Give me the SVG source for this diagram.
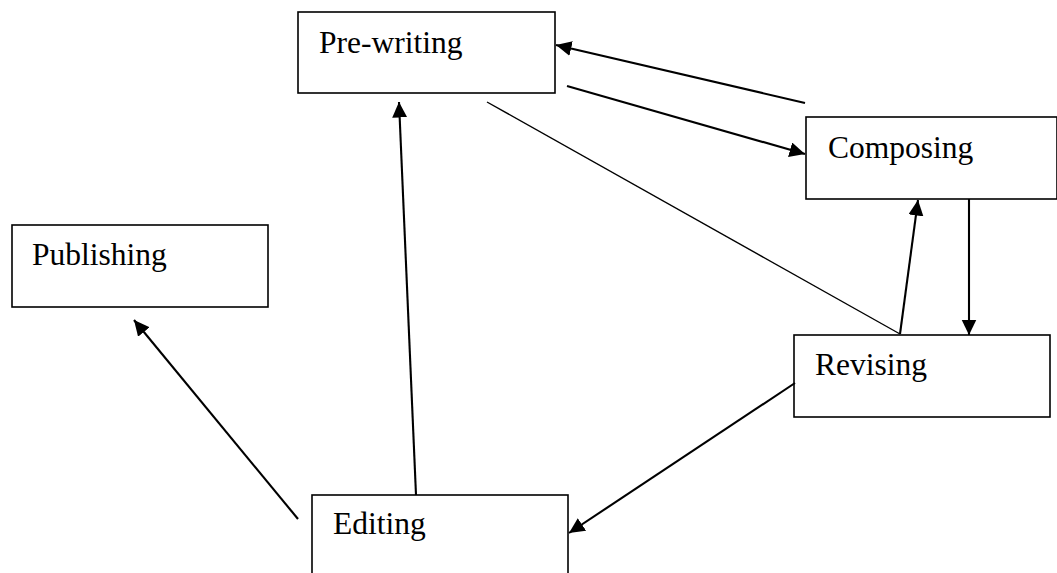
<svg xmlns="http://www.w3.org/2000/svg" width="1057" height="573" viewBox="0 0 1057 573">
<style>
.box{fill:#fff;stroke:#000;stroke-width:1.6}
.lbl{font-family:"Liberation Serif","Times New Roman",serif;font-size:31.5px;fill:#000}
.arr{stroke:#000;stroke-width:2.1;fill:none;marker-end:url(#ah)}
.thin{stroke:#000;stroke-width:1.4;fill:none}
</style>
<defs>
<marker id="ah" markerUnits="userSpaceOnUse" markerWidth="17" markerHeight="16" refX="15.5" refY="7.5" orient="auto">
<path d="M0,0 L15.5,7.5 L0,15 z" fill="#000"/>
</marker>
</defs>
<rect width="1057" height="573" fill="#fff"/>
<g id="prewriting"><rect class="box" x="298" y="12" width="257" height="81"/><text class="lbl" x="319" y="53">Pre-writing</text></g>
<g id="composing"><rect class="box" x="806" y="117" width="251" height="82"/><text class="lbl" x="828" y="158">Composing</text></g>
<g id="revising"><rect class="box" x="794" y="335" width="256" height="82"/><text class="lbl" x="815" y="375">Revising</text></g>
<g id="editing"><rect class="box" x="312" y="495" width="256" height="90"/><text class="lbl" x="333" y="534">Editing</text></g>
<g id="publishing"><rect class="box" x="12" y="225" width="256" height="82"/><text class="lbl" x="32" y="265">Publishing</text></g>
<g id="connectors">
<line class="arr" x1="805" y1="103" x2="556" y2="45"/>
<line class="arr" x1="567" y1="86" x2="805" y2="154"/>
<line class="thin" x1="487" y1="102" x2="900" y2="334"/>
<line class="arr" x1="900" y1="334" x2="918" y2="200"/>
<line class="arr" x1="969" y1="199" x2="969" y2="335"/>
<line class="arr" x1="795" y1="383" x2="569" y2="533"/>
<line class="arr" x1="416" y1="495" x2="399" y2="102"/>
<line class="arr" x1="298" y1="519" x2="134" y2="320"/>
</g>
</svg>
